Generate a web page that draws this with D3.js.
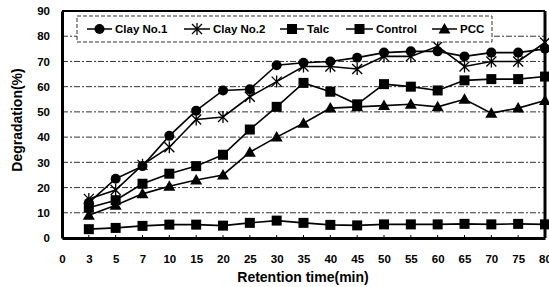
<!DOCTYPE html>
<html><head><meta charset="utf-8">
<script src="https://cdn.jsdelivr.net/npm/d3@7"></script>
<style>
html,body{margin:0;padding:0;background:#fff;}
svg{display:block;font-family:"Liberation Sans",Arial,sans-serif;font-weight:bold;}
</style></head>
<body><svg id="c" width="549" height="287"></svg>
<script>
const times = ["0","3","5","7","10","15","20","25","30","35","40","45","50","55","60","65","70","75","80"];
const dataTimes = times.slice(1);
const clay1   = [14,23.5,28.5,40.5,50.5,58.5,59,68.5,69.5,70,71.5,73.5,74,74,72,73.5,73.5,75];
const clay2   = [15.5,19,29,36,47,48,56,62,68,68,67,72,72,76,68,70,70,77.5];
const talc    = [12,15,21.5,25.5,28.5,33,43,52,61.5,58,53,61,60,58.5,62.5,63,63,64];
const control = [3.5,4,4.8,5.3,5.3,4.9,6,6.9,6,5.2,5,5.4,5.4,5.4,5.6,5.4,5.6,5.4];
const pcc     = [9,13,17.5,20.5,23,25,34,40,45.5,51.5,52,52.5,53,52,55,49.5,51.5,54.5];
const yTicks  = [0,10,20,30,40,50,60,70,80,90];
const seriesNames = ["Clay No.1","Clay No.2","Talc","Control","PCC"];
const seriesVals  = [clay1,clay2,talc,control,pcc];
const seriesMarks = ["circle","star","square","square","triangle"];

const svg = d3.select("#c");
const L=62,R=545,T=11,B=238;
const x = d3.scalePoint().domain(times).range([L,R]);
const y = d3.scaleLinear().domain([0,90]).range([B,T]);

// gridlines
svg.append("g").selectAll("line").data(yTicks.filter(v=>v>0&&v<90)).join("line")
  .attr("x1",L).attr("x2",R).attr("y1",d=>y(d)).attr("y2",d=>y(d))
  .attr("stroke","#333").attr("stroke-width",1).attr("stroke-dasharray","6,2,2,2");

// frame
svg.append("line").attr("x1",L).attr("x2",R).attr("y1",T).attr("y2",T).attr("stroke","#000").attr("stroke-width",2);
svg.append("line").attr("x1",R).attr("x2",R).attr("y1",T).attr("y2",B).attr("stroke","#000").attr("stroke-width",3);

// axes
const yAxis = d3.axisLeft(y).tickValues(yTicks).tickSize(0).tickPadding(12);
const gy = svg.append("g").attr("transform",`translate(${L},0)`).call(yAxis);
gy.select(".domain").attr("stroke","#000").attr("stroke-width",3);
gy.selectAll("text").attr("font-size",11.5).attr("font-weight","bold").attr("font-family","Liberation Sans, Arial, sans-serif").attr("fill","#000");

const xAxis = d3.axisBottom(x).tickSize(0).tickPadding(17);
const gx = svg.append("g").attr("transform",`translate(0,${B})`).call(xAxis);
gx.select(".domain").attr("stroke","#000").attr("stroke-width",3);
gx.selectAll("text").attr("font-size",11.5).attr("font-weight","bold").attr("font-family","Liberation Sans, Arial, sans-serif").attr("fill","#000");

// small tick dots on x axis
svg.append("g").selectAll("line").data(dataTimes).join("line")
  .attr("x1",d=>x(d)).attr("x2",d=>x(d)).attr("y1",B-3).attr("y2",B-1)
  .attr("stroke","#000").attr("stroke-width",1);

// titles
svg.append("text").attr("x",303).attr("y",282).attr("text-anchor","middle")
  .attr("font-size",14).text("Retention time(min)");
svg.append("text").attr("transform","translate(22,120) rotate(-90)").attr("text-anchor","middle")
  .attr("font-size",14).text("Degradation(%)");

function marker(g, type, cx, cy){
  if(type==="circle") g.append("circle").attr("cx",cx).attr("cy",cy).attr("r",5).attr("fill","#000");
  else if(type==="square") g.append("rect").attr("x",cx-5).attr("y",cy-5).attr("width",10).attr("height",10).attr("fill","#000");
  else if(type==="triangle") g.append("path").attr("d",`M${cx},${cy-6}L${cx+6},${cy+4.5}L${cx-6},${cy+4.5}Z`).attr("fill","#000");
  else if(type==="star"){
    const s=5;
    g.append("path").attr("d",`M${cx-s},${cy-s}L${cx+s},${cy+s}M${cx-s},${cy+s}L${cx+s},${cy-s}M${cx},${cy-s-1}L${cx},${cy+s+1}`)
      .attr("stroke","#000").attr("stroke-width",1.3).attr("fill","none");
  }
}

const line = d3.line().x((d,i)=>x(dataTimes[i])).y(d=>y(d));
seriesVals.forEach((vals,k)=>{
  const g = svg.append("g");
  g.append("path").datum(vals).attr("d",line).attr("fill","none").attr("stroke","#000").attr("stroke-width",1.6);
  vals.forEach((v,i)=>marker(g, seriesMarks[k], x(dataTimes[i]), y(v)));
});

// legend
const lg = svg.append("g");
lg.append("rect").attr("x",77).attr("y",16).attr("width",415).attr("height",26)
  .attr("fill","#fff").attr("stroke","#333").attr("stroke-width",1).attr("stroke-dasharray","4,2");
const legX = [87,184,280,346,432];
const legW = [25,26,24,27,25];
seriesNames.forEach((n,k)=>{
  const x0=legX[k], x1=legX[k]+legW[k], ly=29;
  lg.append("line").attr("x1",x0).attr("x2",x1).attr("y1",ly).attr("y2",ly).attr("stroke","#000").attr("stroke-width",1.5);
  marker(lg, seriesMarks[k], (x0+x1)/2, ly);
  lg.append("text").attr("x",x1+3).attr("y",ly+4).attr("font-size",11.5).text(n);
});
</script></body></html>
